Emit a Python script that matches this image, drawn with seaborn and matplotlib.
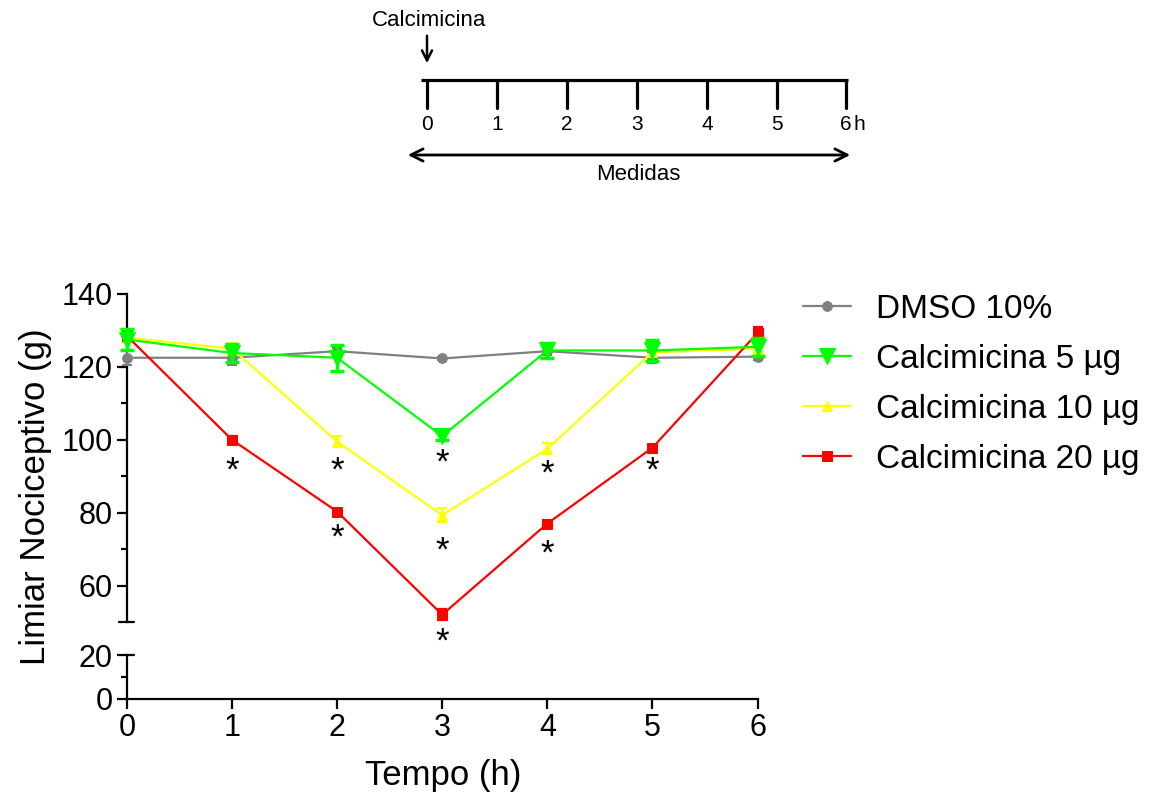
import matplotlib.pyplot as plt
import seaborn as sns
import numpy as np
import pandas as pd

sns.set_style('ticks')
plt.rcParams['font.family'] = ['Liberation Sans', 'DejaVu Sans']
plt.rcParams['text.color'] = 'black'
plt.rcParams['axes.labelcolor'] = 'black'
plt.rcParams['xtick.color'] = 'black'
plt.rcParams['ytick.color'] = 'black'
plt.rcParams['axes.edgecolor'] = 'black'

# data
tempo = [0, 1, 2, 3, 4, 5, 6]
dmso = [122.5, 122.5, 124.3, 122.3, 124.3, 122.5, 122.8]
dmso_err = [2.0, 2.0, 1.0, 0.5, 1.0, 1.5, 1.0]
calc5 = [127.5, 123.8, 122.5, 101.0, 124.5, 124.5, 125.5]
calc5_err = [3.0, 2.5, 3.5, 1.0, 2.0, 3.0, 2.5]
calc10 = [128.0, 125.0, 99.5, 79.3, 97.5, 124.0, 125.0]
calc10_err = [1.5, 1.5, 1.5, 2.0, 1.5, 1.0, 1.0]
calc20 = [128.5, 100.0, 80.3, 52.0, 77.0, 97.8, 129.3]
calc20_err = [1.5, 1.0, 0.5, 1.5, 0.5, 0.5, 1.5]

labels = ['DMSO 10%', 'Calcimicina 5 µg', 'Calcimicina 10 µg', 'Calcimicina 20 µg']
colors = ['#808080', '#00ff00', '#ffff00', '#ff0000']
markers = ['o', 'v', '^', 's']
msizes = [7, 11, 7, 7]

# significance marks (x, y)
star_x = [1, 2, 2, 3, 3, 3, 4, 4, 5]
star_y = [91.5, 91.5, 73.0, 93.5, 69.5, 44.5, 90.5, 68.5, 91.5]

fig = plt.figure(figsize=(11.53, 7.96), dpi=100)
ax = fig.add_axes([0.110, 0.2186, 0.547, 0.4121])
ax_lo = fig.add_axes([0.110, 0.1219, 0.547, 0.0552])

series = [(dmso, dmso_err), (calc5, calc5_err), (calc10, calc10_err), (calc20, calc20_err)]
zorders = [3, 6, 4, 5]
for (vals, errs), lab, col, mk, ms, z in zip(series, labels, colors, markers, msizes, zorders):
    df = pd.DataFrame({'Tempo': tempo, 'valor': vals})
    sns.lineplot(data=df, x='Tempo', y='valor', ax=ax, color=col, marker=mk,
                 markersize=ms, markeredgecolor=col, linewidth=1.6, label=lab,
                 zorder=z, clip_on=False)
    ew = 2.5 if col == '#00ff00' else 1.6
    ax.errorbar(tempo, vals, yerr=errs, fmt='none', ecolor=col, elinewidth=ew,
                capsize=5 if ew > 2 else 3.5, capthick=ew, zorder=z, clip_on=False)

for sx, sy in zip(star_x, star_y):
    ax.text(sx, sy, '*', ha='center', va='center', fontsize=25, clip_on=False)

ax.set_xlim(0, 6)
ax.set_ylim(50, 140)
ax.set_yticks([60, 80, 100, 120, 140])
ax.set_yticks([70, 90, 110, 130], minor=True)
ax.set_xticks([])
ax.set_xlabel('')
ax.set_ylabel('')
for s in ['top', 'right', 'bottom']:
    ax.spines[s].set_visible(False)
ax.spines['left'].set_linewidth(1.6)
ax.tick_params(axis='y', which='major', length=7, width=1.6, labelsize=22, pad=3)
ax.tick_params(axis='y', which='minor', length=4, width=1.6)
ax.plot([-0.012, 0.012], [0, 0], transform=ax.transAxes, color='black',
        linewidth=1.6, clip_on=False)
ax.patch.set_alpha(0)

ax_lo.set_xlim(0, 6)
ax_lo.set_ylim(0, 20)
ax_lo.set_yticks([0, 20])
ax_lo.set_yticks([10], minor=True)
ax_lo.set_xticks(tempo)
for s in ['top', 'right']:
    ax_lo.spines[s].set_visible(False)
ax_lo.spines['left'].set_linewidth(1.6)
ax_lo.spines['bottom'].set_linewidth(1.6)
ax_lo.tick_params(axis='both', which='major', length=7, width=1.6, labelsize=22, pad=3)
ax_lo.tick_params(axis='y', which='minor', length=4, width=1.6)
ax_lo.plot([0, 0.012], [1, 1], transform=ax_lo.transAxes, color='black',
           linewidth=1.6, clip_on=False)
ax_lo.patch.set_alpha(0)

handles, labs = ax.get_legend_handles_labels()
ax.legend(handles, labs, loc='upper left', bbox_to_anchor=(0.682, 0.652),
          bbox_transform=fig.transFigure, frameon=False, fontsize=24,
          handlelength=1.45, handletextpad=0.75, labelspacing=0.57, borderpad=0)

fig.text(0.031, 0.3756, 'Limiar Nociceptivo (g)', rotation=90, ha='center',
         va='center', fontsize=25)
fig.text(443 / 1153, 1 - 776 / 796, 'Tempo (h)', ha='center', va='center', fontsize=25)

# timeline sketch on top
ov = fig.add_axes([0, 0, 1, 1])
ov.set_xlim(0, 1153)
ov.set_ylim(796, 0)
ov.axis('off')
ov.patch.set_alpha(0)
tl_x = [427, 497, 567, 637, 707, 777, 846]
ov.plot([421, 848], [80, 80], color='black', linewidth=2.3, solid_capstyle='butt')
for i, tx in enumerate(tl_x):
    ov.plot([tx, tx], [80, 108], color='black', linewidth=2.3)
    ov.text(tx, 124, str(i), ha='center', va='center', fontsize=15)
ov.text(859, 124, 'h', ha='center', va='center', fontsize=15)
ov.text(429, 20, 'Calcimicina', ha='center', va='center', fontsize=16)
ov.annotate('', xy=(427, 66), xytext=(427, 33),
            arrowprops=dict(arrowstyle='->', color='black', lw=1.8, mutation_scale=18))
ov.annotate('', xy=(405, 155), xytext=(853, 155),
            arrowprops=dict(arrowstyle='<->', color='black', lw=2.0, mutation_scale=22))
ov.text(638, 174, 'Medidas', ha='center', va='center', fontsize=16)

fig.savefig('out.png', dpi=100)
